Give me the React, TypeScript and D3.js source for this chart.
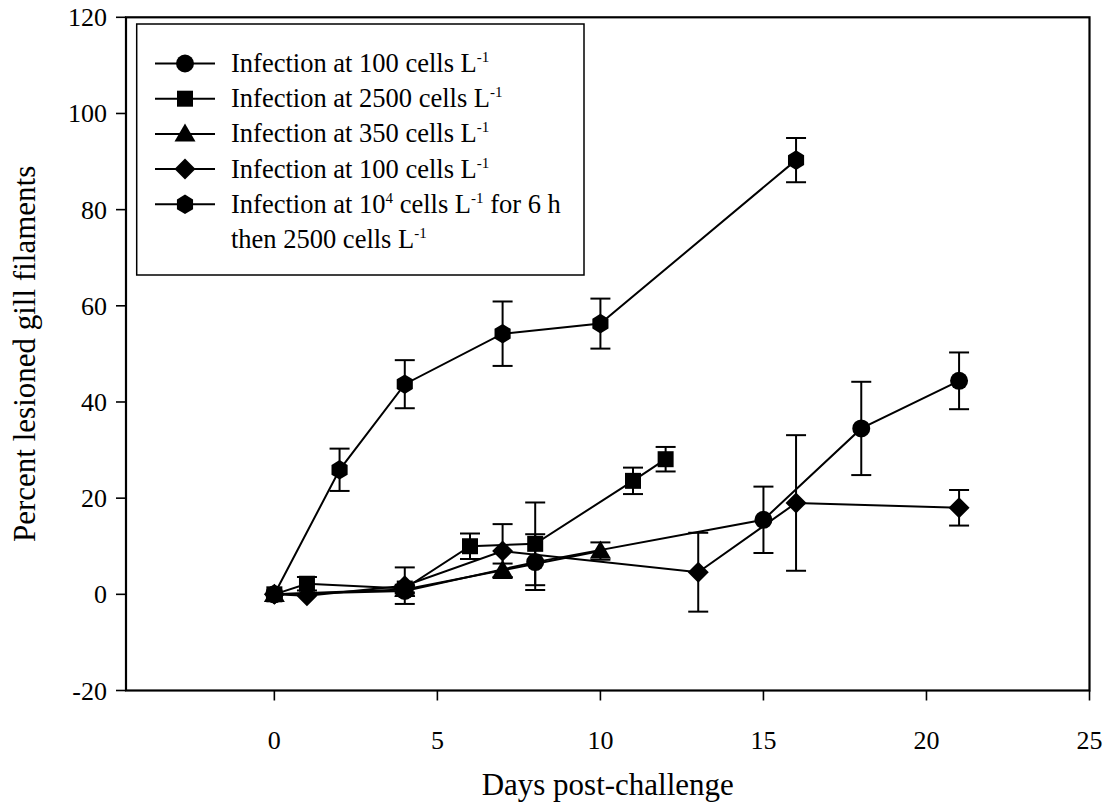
import React from "react";
import * as d3 from "d3";

// ---- data ----
const circleDays = [0, 4, 8, 15, 18, 21];
const circleVals = [0, 0.7, 6.7, 15.5, 34.5, 44.4];
const circleErr = [0, 1.0, 5.8, 6.9, 9.7, 5.9];

const squareDays = [0, 1, 4, 6, 8, 11, 12];
const squareVals = [0, 2.2, 1.2, 10.0, 10.5, 23.6, 28.1];
const squareErr = [0, 1.4, 0.8, 2.65, 8.6, 2.75, 2.55];

const triangleDays = [0, 4, 7, 10];
const triangleVals = [0, 1.0, 5.0, 9.0];
const triangleErr = [0, 0.8, 1.4, 1.8];

const diamondDays = [0, 1, 4, 7, 13, 16, 21];
const diamondVals = [0, -0.3, 1.8, 9.0, 4.6, 19.0, 18.0];
const diamondErr = [0, 0, 3.8, 5.6, 8.2, 14.1, 3.7];

const hexDays = [0, 2, 4, 7, 10, 16];
const hexVals = [0, 25.9, 43.7, 54.2, 56.3, 90.3];
const hexErr = [0, 4.4, 5.0, 6.7, 5.2, 4.6];

const xTicks = [0, 5, 10, 15, 20, 25];
const yTicks = [-20, 0, 20, 40, 60, 80, 100, 120];

const legendLabels = [
  { pre: "Infection at 100 cells L", sup: "-1" },
  { pre: "Infection at 2500 cells L", sup: "-1" },
  { pre: "Infection at 350 cells L", sup: "-1" },
  { pre: "Infection at 100 cells L", sup: "-1" },
];

type Shape = "circle" | "square" | "triangle" | "diamond" | "hexagon";

const series: { shape: Shape; days: number[]; vals: number[]; err: number[] }[] = [
  { shape: "circle", days: circleDays, vals: circleVals, err: circleErr },
  { shape: "square", days: squareDays, vals: squareVals, err: squareErr },
  { shape: "triangle", days: triangleDays, vals: triangleVals, err: triangleErr },
  { shape: "diamond", days: diamondDays, vals: diamondVals, err: diamondErr },
  { shape: "hexagon", days: hexDays, vals: hexVals, err: hexErr },
];

const W = 1106;
const H = 805;
const left = 126;
const right = 1089.5;
const top = 17.3;
const bottom = 690.5;

const x = d3.scaleLinear().domain([-4.55, 25]).range([left, right]);
const y = d3.scaleLinear().domain([-20, 120]).range([bottom, top]);

const FONT = "'Liberation Serif', 'Times New Roman', serif";

function markerPath(shape: Shape, cx: number, cy: number): string {
  switch (shape) {
    case "circle": {
      const r = 9;
      return `M${cx - r},${cy}a${r},${r} 0 1,0 ${2 * r},0a${r},${r} 0 1,0 ${-2 * r},0Z`;
    }
    case "square": {
      const s = 8;
      return `M${cx - s},${cy - s}H${cx + s}V${cy + s}H${cx - s}Z`;
    }
    case "triangle": {
      const w = 10.5, h = 18;
      return `M${cx},${cy - h * 0.58}L${cx + w},${cy + h * 0.42}L${cx - w},${cy + h * 0.42}Z`;
    }
    case "diamond": {
      const d = 10.5;
      return `M${cx},${cy - d}L${cx + d},${cy}L${cx},${cy + d}L${cx - d},${cy}Z`;
    }
    case "hexagon": {
      const r = 9.8;
      const pts = d3.range(6).map((i) => {
        const a = -Math.PI / 2 + (i * Math.PI) / 3;
        return [cx + r * Math.cos(a) * 0.95, cy + r * Math.sin(a)];
      });
      return "M" + pts.map((p) => p.join(",")).join("L") + "Z";
    }
  }
}

export default function App() {
  const line = d3
    .line<[number, number]>()
    .x((d) => x(d[0]))
    .y((d) => y(d[1]));

  const legX0 = 155;
  const legX1 = 215;
  const legMX = 185;
  const legTextX = 231;
  const legRowY = (i: number) => 63.5 + i * 35.2;
  const LF = 26.5;

  return (
    <svg
      width={W}
      height={H}
      style={{ position: "absolute", left: 0, top: 0, background: "#fff" }}
      fontFamily={FONT}
    >
      <rect x={0} y={0} width={W} height={H} fill="#fff" />

      {/* series lines */}
      {series.map((s, si) => (
        <path
          key={"l" + si}
          d={line(s.days.map((d, i) => [d, s.vals[i]] as [number, number])) || ""}
          fill="none"
          stroke="#000"
          strokeWidth={2}
        />
      ))}

      {/* error bars */}
      {series.map((s, si) =>
        s.days.map((d, i) =>
          s.err[i] > 0 ? (
            <g key={`e${si}-${i}`} stroke="#000" strokeWidth={2}>
              <line x1={x(d)} x2={x(d)} y1={y(s.vals[i] + s.err[i])} y2={y(s.vals[i] - s.err[i])} />
              <line x1={x(d) - 10} x2={x(d) + 10} y1={y(s.vals[i] + s.err[i])} y2={y(s.vals[i] + s.err[i])} />
              <line x1={x(d) - 10} x2={x(d) + 10} y1={y(s.vals[i] - s.err[i])} y2={y(s.vals[i] - s.err[i])} />
            </g>
          ) : null
        )
      )}

      {/* markers */}
      {series.map((s, si) =>
        s.days.map((d, i) => (
          <path key={`m${si}-${i}`} d={markerPath(s.shape, x(d), y(s.vals[i]))} fill="#000" />
        ))
      )}

      {/* frame */}
      <rect x={left} y={top} width={right - left} height={bottom - top} fill="none" stroke="#000" strokeWidth={2.2} />

      {/* y axis ticks */}
      {yTicks.map((t) => (
        <g key={"yt" + t}>
          <line x1={left - 10} x2={left} y1={y(t)} y2={y(t)} stroke="#000" strokeWidth={1.6} />
          <text x={left - 19} y={y(t) + 9} textAnchor="end" fontSize={26}>
            {t}
          </text>
        </g>
      ))}

      {/* x axis ticks */}
      {xTicks.map((t) => (
        <g key={"xt" + t}>
          <line x1={x(t)} x2={x(t)} y1={bottom} y2={bottom + 10} stroke="#000" strokeWidth={1.6} />
          <text x={x(t)} y={749} textAnchor="middle" fontSize={26}>
            {t}
          </text>
        </g>
      ))}

      {/* axis titles */}
      <text x={(left + right) / 2} y={795} textAnchor="middle" fontSize={31}>
        Days post-challenge
      </text>
      <text
        transform={`translate(35, ${(top + bottom) / 2}) rotate(-90)`}
        textAnchor="middle"
        fontSize={31}
      >
        Percent lesioned gill filaments
      </text>

      {/* legend */}
      <rect x={136.7} y={24} width={447.3} height={251} fill="#fff" stroke="#000" strokeWidth={1.5} />
      {series.map((s, i) => (
        <g key={"lg" + i}>
          <line x1={legX0} x2={legX1} y1={legRowY(i)} y2={legRowY(i)} stroke="#000" strokeWidth={2} />
          <path d={markerPath(s.shape, legMX, legRowY(i))} fill="#000" />
        </g>
      ))}
      {legendLabels.map((l, i) => (
        <text key={"lt" + i} x={legTextX} y={legRowY(i) + 8.5} fontSize={LF}>
          {l.pre}
          <tspan dy={-10} fontSize={15}>
            {l.sup}
          </tspan>
        </text>
      ))}
      <text x={legTextX} y={legRowY(4) + 8.5} fontSize={LF}>
        Infection at 10
        <tspan dy={-10} fontSize={15}>4</tspan>
        <tspan dy={10}> cells L</tspan>
        <tspan dy={-10} fontSize={15}>-1</tspan>
        <tspan dy={10}> for 6 h</tspan>
      </text>
      <text x={legTextX} y={legRowY(5) + 8.5} fontSize={LF}>
        then 2500 cells L
        <tspan dy={-10} fontSize={15}>-1</tspan>
      </text>
    </svg>
  );
}
